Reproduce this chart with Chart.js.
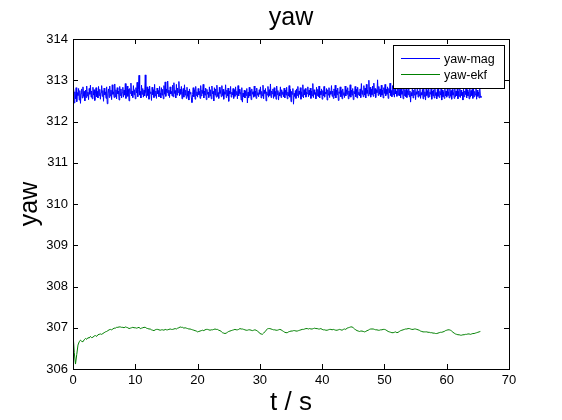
<!DOCTYPE html>
<html>
<head>
<meta charset="utf-8">
<script src="https://cdn.jsdelivr.net/npm/chart.js@4.4.1/dist/chart.umd.min.js"></script>
<style>
  html, body { margin: 0; padding: 0; background: #fff; }
  #wrap { width: 562px; height: 420px; }
</style>
</head>
<body>
<div id="wrap"><canvas id="yawChart" width="562" height="420"></canvas></div>
<script>
// sample spacing of the two logged signals (seconds)
const magStep = 0.1;
const ekfStep = 0.2;

// yaw from magnetometer, t = 0 .. 65.5 s
const yawMag = [
  312.60,312.78,312.45,312.72,312.55,312.82,312.48,312.70,312.63,312.80,312.52,312.75,312.44,312.68,312.79,312.57,312.84,312.61,312.73,312.50,
  312.76,312.58,312.86,312.62,312.71,312.53,312.80,312.66,312.88,312.59,312.74,312.55,312.83,312.64,312.77,312.51,312.69,312.82,312.60,312.73,
  312.57,312.85,312.63,312.78,312.54,312.70,312.87,312.61,312.75,312.49,312.81,312.65,312.72,312.56,312.84,312.43,312.68,312.79,312.58,312.86,
  312.62,312.76,312.53,312.89,312.66,312.72,312.58,312.91,312.60,312.77,312.55,312.82,312.67,312.74,312.52,312.85,312.63,312.79,312.57,312.70,
  312.83,312.59,312.76,312.64,312.92,312.56,312.71,312.86,312.61,312.78,312.50,312.80,312.68,312.93,312.62,312.74,312.58,312.87,312.65,312.77,
  312.55,312.82,312.69,312.95,312.60,312.78,313.12,312.64,312.73,312.57,312.88,312.66,312.80,312.59,312.76,312.62,313.13,312.70,312.58,312.84,
  312.63,312.79,312.54,312.86,312.68,312.72,312.51,312.83,312.65,312.77,312.58,312.90,312.62,312.74,312.56,312.81,312.67,312.75,312.60,312.85,
  312.69,312.57,312.82,312.64,312.78,312.55,312.87,312.66,312.96,312.61,312.79,312.70,312.98,312.63,312.76,312.58,312.84,312.67,312.73,312.62,
  312.88,312.60,312.94,312.68,312.75,312.57,312.90,312.64,312.81,312.70,312.97,312.62,312.78,312.66,312.85,312.55,312.72,312.80,312.59,312.89,
  312.64,312.76,312.56,312.83,312.61,312.74,312.52,312.79,312.67,312.71,312.58,312.46,312.66,312.82,312.60,312.77,312.54,312.85,312.63,312.72,
  312.59,312.80,312.65,312.73,312.56,312.87,312.62,312.76,312.68,312.90,312.57,312.74,312.64,312.81,312.53,312.78,312.66,312.71,312.58,312.84,
  312.62,312.77,312.55,312.86,312.67,312.73,312.50,312.82,312.64,312.79,312.59,312.88,312.61,312.70,312.56,312.83,312.68,312.75,312.60,312.87,
  312.63,312.78,312.54,312.72,312.66,312.89,312.58,312.76,312.62,312.81,312.49,312.74,312.67,312.85,312.59,312.71,312.64,312.80,312.56,312.77,
  312.61,312.84,312.65,312.73,312.55,312.87,312.62,312.78,312.68,312.70,312.52,312.82,312.47,312.69,312.60,312.76,312.57,312.74,312.63,312.80,
  312.45,312.71,312.58,312.83,312.62,312.75,312.53,312.79,312.66,312.72,312.59,312.86,312.61,312.74,312.56,312.81,312.64,312.70,312.60,312.77,
  312.66,312.84,312.57,312.73,312.62,312.88,312.55,312.76,312.68,312.80,312.50,312.72,312.64,312.85,312.59,312.77,312.63,312.91,312.58,312.74,
  312.67,312.79,312.56,312.82,312.61,312.73,312.54,312.86,312.65,312.75,312.52,312.70,312.62,312.84,312.58,312.77,312.66,312.72,312.60,312.81,
  312.57,312.76,312.64,312.83,312.55,312.71,312.62,312.87,312.59,312.78,312.48,312.73,312.66,312.80,312.42,312.68,312.61,312.75,312.56,312.79,
  312.63,312.85,312.58,312.74,312.66,312.82,312.54,312.72,312.61,312.89,312.57,312.77,312.65,312.80,312.59,312.71,312.67,312.84,312.60,312.76,
  312.64,312.81,312.56,312.74,312.62,312.92,312.58,312.77,312.66,312.70,312.55,312.83,312.63,312.78,312.60,312.86,312.57,312.73,312.65,312.79,
  312.54,312.75,312.62,312.85,312.59,312.71,312.67,312.80,312.52,312.77,312.64,312.82,312.58,312.73,312.66,312.87,312.61,312.74,312.56,312.79,
  312.63,312.88,312.57,312.76,312.65,312.81,312.51,312.72,312.68,312.84,312.60,312.75,312.55,312.79,312.64,312.70,312.58,312.86,312.62,312.77,
  312.66,312.82,312.55,312.74,312.61,312.89,312.59,312.76,312.64,312.80,312.53,312.73,312.67,312.85,312.60,312.78,312.57,312.83,312.65,312.71,
  312.62,312.79,312.58,312.92,312.66,312.75,312.60,312.87,312.64,312.81,312.57,312.90,312.68,312.76,312.62,313.00,312.66,312.83,312.59,312.78,
  312.65,312.86,312.61,312.93,312.67,312.80,312.58,312.77,312.70,313.01,312.63,312.85,312.66,312.79,312.60,312.88,312.64,312.76,312.57,312.82,
  312.68,312.90,312.62,312.78,312.66,312.84,312.56,312.80,312.69,312.93,312.63,312.75,312.60,312.87,312.65,312.79,312.59,312.83,312.67,312.74,
  312.61,312.86,312.64,312.95,312.62,312.78,312.57,312.82,312.66,312.73,312.55,312.88,312.63,312.77,312.60,312.84,312.58,312.75,312.65,312.81,
  312.60,312.74,312.47,312.70,312.62,312.85,312.57,312.76,312.64,312.80,312.53,312.72,312.66,312.87,312.59,312.74,312.62,312.81,312.56,312.70,
  312.64,312.78,312.55,312.83,312.61,312.72,312.52,312.79,312.63,312.75,312.58,312.84,312.60,312.71,312.66,312.80,312.54,312.74,312.62,312.77,
  312.57,312.82,312.63,312.70,312.55,312.78,312.61,312.86,312.58,312.73,312.64,312.79,312.52,312.76,312.60,312.72,312.56,312.83,312.62,312.74,
  312.59,312.80,312.63,312.72,312.57,312.85,312.61,312.75,312.54,312.78,312.64,312.70,312.56,312.82,312.60,312.74,312.62,312.79,312.55,312.73,
  312.61,312.84,312.58,312.76,312.63,312.71,312.52,312.80,312.60,312.74,312.65,312.86,312.57,312.77,312.62,312.72,312.55,312.81,312.59,312.75,
  312.63,312.78,312.56,312.82,312.60,312.73,312.64,312.85,312.54,312.76,312.61,312.71,312.57,312.80,312.62,312.58
];

// yaw from the EKF, t = 0 .. 65.4 s
const yawEkf = [
  306.88,306.40,306.12,306.35,306.58,306.66,306.70,306.67,306.66,306.71,
  306.74,306.72,306.76,306.75,306.79,306.76,306.77,306.80,306.81,306.79,
  306.83,306.84,306.85,306.84,306.86,306.88,306.90,306.91,306.93,306.95,
  306.96,306.95,306.97,306.99,306.99,307.01,307.01,307.02,307.02,307.01,
  307.01,307.00,307.02,307.01,307.00,306.98,306.99,307.00,307.01,307.00,
  307.00,306.99,307.00,307.01,306.98,306.99,307.00,307.01,307.01,306.99,
  306.98,306.97,306.97,306.95,306.94,306.93,306.95,306.96,306.96,306.95,
  306.94,306.95,306.95,306.94,306.96,306.95,306.95,306.96,306.97,306.96,
  306.96,306.97,306.98,306.97,306.99,307.00,307.02,307.01,307.01,306.99,
  307.00,306.99,306.98,306.97,306.97,306.96,306.95,306.94,306.93,306.92,
  306.90,306.91,306.92,306.93,306.94,306.93,306.95,306.96,306.96,306.95,
  306.94,306.95,306.95,306.96,306.97,306.96,306.96,306.94,306.93,306.91,
  306.88,306.87,306.86,306.87,306.89,306.91,306.92,306.93,306.94,306.95,
  306.96,306.95,306.95,306.96,306.98,306.97,306.97,306.96,306.95,306.94,
  306.94,306.95,306.95,306.94,306.93,306.94,306.95,306.94,306.92,306.90,
  306.86,306.85,306.84,306.87,306.90,306.94,306.97,306.98,306.98,306.97,
  306.96,306.95,306.95,306.94,306.94,306.95,306.96,306.95,306.93,306.91,
  306.89,306.88,306.88,306.90,306.91,306.92,306.92,306.93,306.93,306.92,
  306.92,306.93,306.94,306.95,306.96,306.96,306.97,306.98,306.98,306.97,
  306.98,306.97,306.97,306.98,306.99,306.98,306.98,306.97,306.97,306.98,
  306.96,306.95,306.95,306.94,306.94,306.95,306.96,306.96,306.95,306.96,
  306.95,306.94,306.94,306.95,306.96,306.95,306.94,306.96,306.97,306.96,
  306.99,307.00,307.01,307.02,307.02,307.00,306.97,306.95,306.93,306.92,
  306.91,306.92,306.92,306.91,306.90,306.91,306.93,306.94,306.96,306.97,
  306.97,306.97,306.96,306.95,306.95,306.94,306.94,306.95,306.95,306.96,
  306.96,306.95,306.93,306.91,306.90,306.89,306.88,306.88,306.89,306.90,
  306.88,306.89,306.91,306.93,306.94,306.95,306.96,306.97,306.97,306.98,
  306.98,306.97,306.96,306.96,306.97,306.97,306.96,306.95,306.94,306.92,
  306.91,306.90,306.90,306.90,306.90,306.89,306.89,306.88,306.88,306.87,
  306.87,306.86,306.86,306.87,306.88,306.89,306.89,306.90,306.91,306.93,
  306.94,306.95,306.95,306.94,306.92,306.89,306.87,306.85,306.84,306.83,
  306.83,306.82,306.82,306.83,306.83,306.84,306.84,306.85,306.85,306.84,
  306.85,306.86,306.86,306.87,306.88,306.89,306.90,306.91
];

const xTicks = [0, 10, 20, 30, 40, 50, 60, 70];
const yTicks = [306, 307, 308, 309, 310, 311, 312, 313, 314];
const seriesNames = ['yaw-mag', 'yaw-ekf'];

const FONT = '"Liberation Sans", Arial, Helvetica, sans-serif';
const TICK_LEN = 5;

function toPoints(values, step) {
  return values.map((v, i) => ({ x: +(i * step).toFixed(2), y: v }));
}

// MATLAB style box with inward ticks on all four sides
const boxTicks = {
  id: 'boxTicks',
  afterDatasetsDraw(chart) {
    const { ctx, chartArea: a, scales: { x, y } } = chart;
    ctx.save();
    ctx.strokeStyle = '#000';
    ctx.lineWidth = 1;
    ctx.beginPath();
    x.ticks.forEach(t => {
      const px = Math.round(x.getPixelForValue(t.value)) + 0.5;
      ctx.moveTo(px, a.bottom); ctx.lineTo(px, a.bottom - TICK_LEN);
      ctx.moveTo(px, a.top); ctx.lineTo(px, a.top + TICK_LEN);
    });
    y.ticks.forEach(t => {
      const py = Math.round(y.getPixelForValue(t.value)) + 0.5;
      ctx.moveTo(a.left, py); ctx.lineTo(a.left + TICK_LEN, py);
      ctx.moveTo(a.right, py); ctx.lineTo(a.right - TICK_LEN, py);
    });
    ctx.stroke();
    ctx.strokeRect(Math.round(a.left) + 0.5, Math.round(a.top) + 0.5,
      Math.round(a.right - a.left), Math.round(a.bottom - a.top));
    ctx.restore();
  }
};

// legend box in the upper right corner of the axes
const boxLegend = {
  id: 'boxLegend',
  afterDraw(chart) {
    const { ctx, chartArea: a } = chart;
    const w = 111, h = 43;
    const bx = a.right - 116, by = a.top + 6;
    ctx.save();
    ctx.fillStyle = '#fff';
    ctx.fillRect(bx, by, w, h);
    ctx.strokeStyle = '#000';
    ctx.lineWidth = 1;
    ctx.strokeRect(bx + 0.5, by + 0.5, w, h);
    ctx.font = '12.5px ' + FONT;
    ctx.textBaseline = 'middle';
    chart.data.datasets.forEach((ds, i) => {
      const ly = by + 13.5 + i * 16;
      ctx.strokeStyle = ds.borderColor;
      ctx.beginPath();
      ctx.moveTo(bx + 8, ly); ctx.lineTo(bx + 47, ly);
      ctx.stroke();
      ctx.fillStyle = '#000';
      ctx.fillText(ds.label, bx + 51, ly + 1);
    });
    ctx.restore();
  }
};

const ctx = document.getElementById('yawChart').getContext('2d');
const yawChart = new Chart(ctx, {
  type: 'line',
  data: {
    datasets: [{
      label: seriesNames[0],
      data: toPoints(yawMag, magStep),
      borderColor: '#0000ff',
      borderWidth: 1,
      pointRadius: 0,
      tension: 0
    }, {
      label: seriesNames[1],
      data: toPoints(yawEkf, ekfStep),
      borderColor: '#008000',
      borderWidth: 1,
      pointRadius: 0,
      tension: 0
    }]
  },
  options: {
    responsive: false,
    animation: false,
    devicePixelRatio: 1,
    layout: { padding: { left: 0, right: 53, top: 0, bottom: 0 } },
    plugins: {
      legend: { display: false },
      tooltip: { enabled: false },
      title: {
        display: true,
        fullSize: false,
        text: 'yaw',
        color: '#000',
        font: { family: FONT, size: 25, weight: 'normal', lineHeight: 1.2 },
        padding: { top: 3, bottom: 6 }
      }
    },
    scales: {
      x: {
        type: 'linear',
        min: 0,
        max: 70,
        afterBuildTicks: s => { s.ticks = xTicks.map(v => ({ value: v })); },
        afterFit: s => { s.height = 51; },
        grid: { display: false, drawTicks: false },
        border: { display: false },
        ticks: { color: '#000', padding: 4, maxRotation: 0, font: { family: FONT, size: 13 } },
        title: {
          display: true,
          text: 't / s',
          color: '#000',
          font: { family: FONT, size: 26, lineHeight: 1.2 },
          padding: { top: 0, bottom: 2 }
        }
      },
      y: {
        type: 'linear',
        min: 306,
        max: 314,
        afterBuildTicks: s => { s.ticks = yTicks.map(v => ({ value: v })); },
        afterFit: s => { s.width = 73; },
        grid: { display: false, drawTicks: false },
        border: { display: false },
        ticks: { color: '#000', padding: 5, font: { family: FONT, size: 13 } },
        title: {
          display: true,
          text: 'yaw',
          color: '#000',
          font: { family: FONT, size: 25, lineHeight: 1.2 },
          padding: { top: 15, bottom: 0 }
        }
      }
    }
  },
  plugins: [boxTicks, boxLegend]
});
</script>
</body>
</html>
